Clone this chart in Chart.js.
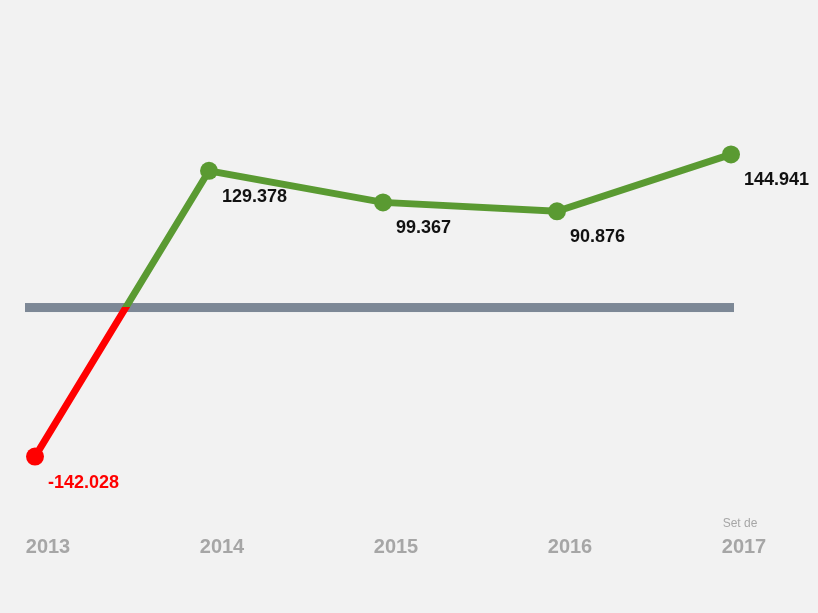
<!DOCTYPE html>
<html>
<head>
<meta charset="utf-8">
<script src="https://cdn.jsdelivr.net/npm/chart.js@4"></script>
<style>
  html, body { margin: 0; padding: 0; background: #f2f2f2; }
  #wrap { width: 818px; height: 613px; }
</style>
</head>
<body>
<div id="wrap"><canvas id="c"></canvas></div>
<script>
const years = [2013, 2014, 2015, 2016, 2017];
const yearLabels = ['2013', '2014', '2015', '2016', '2017'];
const values = [-142.028, 129.378, 99.367, 90.876, 144.941];
const valueLabels = ['-142.028', '129.378', '99.367', '90.876', '144.941'];
const lastNote = 'Set de';

const GREEN = '#5a9a32';
const RED = '#ff0000';

// red below zero, green above, split exactly at the zero pixel
function splitColor(ctx) {
  const chart = ctx.chart;
  const area = chart.chartArea;
  if (!area) return GREEN;
  const y0 = chart.scales.y.getPixelForValue(0);
  const g = chart.ctx.createLinearGradient(0, area.top, 0, area.bottom);
  const s = Math.min(Math.max((y0 - area.top) / (area.bottom - area.top), 0), 1);
  g.addColorStop(0, GREEN);
  g.addColorStop(s, GREEN);
  g.addColorStop(s, RED);
  g.addColorStop(1, RED);
  return g;
}

const zeroLine = {
  id: 'zeroLine',
  beforeDatasetsDraw(chart) {
    const c = chart.ctx, y = chart.scales.y.getPixelForValue(0);
    c.save();
    c.fillStyle = '#7d8896';
    c.fillRect(25, y - 4, 709, 9);
    c.restore();
  }
};

const labelsPlugin = {
  id: 'labelsPlugin',
  afterDatasetsDraw(chart) {
    const c = chart.ctx, xs = chart.scales.x, ys = chart.scales.y;
    c.save();
    c.textBaseline = 'middle';
    c.font = 'bold 18px "Liberation Sans", Arial, sans-serif';
    values.forEach((v, i) => {
      c.fillStyle = v < 0 ? RED : '#111';
      c.textAlign = 'left';
      c.fillText(valueLabels[i], xs.getPixelForValue(years[i]) + 13, ys.getPixelForValue(v) + 26);
    });
    c.fillStyle = '#a6a6a6';
    c.textAlign = 'center';
    c.font = 'bold 20px "Liberation Sans", Arial, sans-serif';
    years.forEach((yr, i) => {
      c.fillText(yearLabels[i], xs.getPixelForValue(yr) + 13, 547);
    });
    c.font = '12px "Liberation Sans", Arial, sans-serif';
    c.fillText(lastNote, xs.getPixelForValue(years[4]) + 9, 524);
    c.restore();
  }
};

new Chart(document.getElementById('c'), {
  type: 'line',
  data: {
    datasets: [{
      data: years.map((x, i) => ({ x, y: values[i] })),
      borderColor: splitColor,
      borderWidth: 7,
      pointRadius: 9,
      pointBorderWidth: 0,
      pointBackgroundColor: values.map(v => v < 0 ? RED : GREEN),
      tension: 0,
      clip: false
    }]
  },
  options: {
    responsive: true,
    maintainAspectRatio: false,
    animation: false,
    layout: { padding: { left: 35, right: 87, top: 0, bottom: 0 } },
    plugins: { legend: { display: false }, tooltip: { enabled: false } },
    scales: {
      x: { type: 'linear', min: 2013, max: 2017, display: false },
      y: { min: -282, max: 283, display: false }
    }
  },
  plugins: [zeroLine, labelsPlugin]
});
</script>
</body>
</html>
